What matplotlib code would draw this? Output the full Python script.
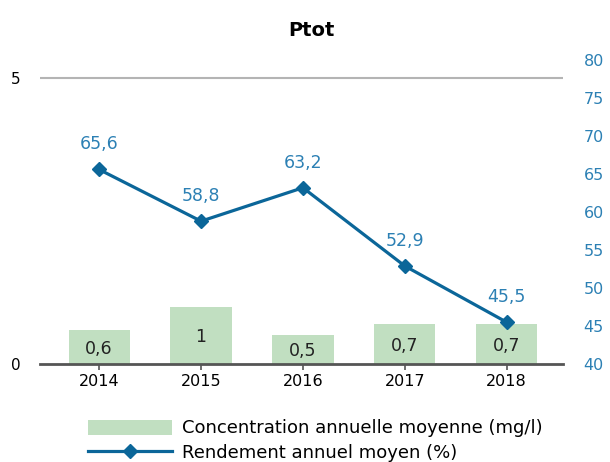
import numpy as np
from matplotlib import pyplot as plt
from matplotlib.patches import Patch
from matplotlib.lines import Line2D

# Data
years = ["2014", "2015", "2016", "2017", "2018"]
concentration = [0.6, 1.0, 0.5, 0.7, 0.7]
rendement = [65.6, 58.8, 63.2, 52.9, 45.5]

bar_color = "#c1dfc1"
line_color = "#0b6699"
label_blue = "#2c80b4"

fig = plt.figure(figsize=(6.1, 4.62), dpi=100)
ax = fig.add_axes([0.0656, 0.212, 0.857, 0.658])
x = np.arange(len(years))

ax.bar(x, concentration, width=0.6, color=bar_color, zorder=2)
for xi, v in zip(x, concentration):
    ax.text(xi, v / 2 - 0.03, "{:g}".format(v).replace(".", ","), ha="center", va="center",
            fontsize=12.5, color="#222222", zorder=3)

ax.set_xlim(-0.58, 4.55)
ax.set_ylim(0, 5.315)
ax.set_yticks([0, 5])
ax.set_yticklabels(["0", "5"], fontsize=11)
ax.tick_params(axis="y", length=0, pad=14)
ax.axhline(5, color="#b4b4b4", lw=1.5, zorder=1)
ax.set_xticks(x)
ax.set_xticklabels(years, fontsize=11.5)
ax.tick_params(axis="x", length=4, width=1.2, color="#555555", pad=3)
for s in ["top", "right", "left"]:
    ax.spines[s].set_visible(False)
ax.spines["bottom"].set_color("#555555")
ax.spines["bottom"].set_linewidth(2)
ax.spines["bottom"].set_zorder(4)

ax2 = ax.twinx()
ax2.plot(x, rendement, color=line_color, lw=2.3, marker="D", markersize=7, zorder=5)
for xi, v in zip(x, rendement):
    ax2.annotate("{:g}".format(v).replace(".", ","), (xi, v), xytext=(0, 18),
                 textcoords="offset points", ha="center", va="center",
                 fontsize=12.5, color=label_blue)
ax2.set_ylim(40, 80)
ax2.set_yticks(np.arange(40, 81, 5))
ax2.tick_params(axis="y", length=0, pad=15, labelcolor=label_blue, labelsize=11.5)
for s in ["top", "right", "left", "bottom"]:
    ax2.spines[s].set_visible(False)

fig.text(0.51, 0.935, "Ptot", ha="center", va="center", fontsize=14, fontweight="bold")

handles = [Patch(facecolor=bar_color, edgecolor="none"),
           Line2D([0], [0], color=line_color, lw=2.3, marker="D", markersize=7)]
labels = ["Concentration annuelle moyenne (mg/l)", "Rendement annuel moyen (%)"]
fig.legend(handles, labels, loc="upper left", bbox_to_anchor=(0.145, 0.092),
           frameon=False, fontsize=13, handlelength=4.6, handleheight=0.9,
           handletextpad=0.6, labelspacing=0.35, borderpad=0, borderaxespad=0)

fig.savefig("out.png", dpi=100)
